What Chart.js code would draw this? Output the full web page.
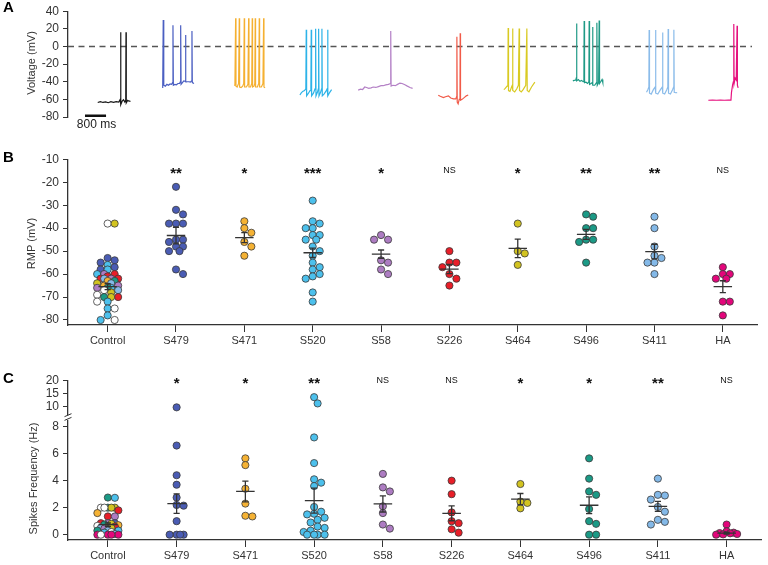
<!DOCTYPE html>
<html><head><meta charset="utf-8">
<script src="https://cdn.jsdelivr.net/npm/chart.js@4.4.0/dist/chart.umd.min.js"></script>
<style>
html,body{margin:0;padding:0;background:#fff;width:768px;height:565px;overflow:hidden}
canvas{position:absolute;left:0}
#cA{top:0}#cB{top:135px}#cC{top:350px}
</style></head><body>
<canvas id="cA" width="768" height="135"></canvas>
<canvas id="cB" width="768" height="215"></canvas>
<canvas id="cC" width="768" height="215"></canvas>
<script>
// ---------------- DATA ----------------
const categories = ['Control','S479','S471','S520','S58','S226','S464','S496','S411','HA'];

// Panel A: example voltage traces, [time (ms), voltage (mV)]
const traceControl = [[1130,-63.5],[1230,-62.5],[1330,-63.5],[1430,-62.8],[1530,-63.8],[1630,-62.6],[1730,-63.4],[1830,-62.6],[1930,-63],[1985,-60],[2000,16],[2012,-66],[2060,-62],[2110,-60.5],[2160,-63],[2195,-61],[2205,16],[2215,-64],[2270,-61],[2320,-62],[2356,-61.5]];
const traceS479 = [[3600,-47],[3620,30],[3640,-44],[3700,-45],[3760,-43],[3820,-44],[3880,-42.5],[3940,-43],[3975,-41],[3990,24],[4005,-44],[4060,-43],[4120,-43.5],[4180,-42],[4240,-42],[4270,-40],[4283,24],[4298,-43],[4350,-41],[4400,-39],[4450,-39.5],[4465,-37],[4473,13],[4485,-40],[4540,-40],[4600,-40],[4650,-40.5],[4700,-39],[4712,17.6],[4725,-41],[4790,-42]];
const traceS471 = [[6310,-44],[6345,-42],[6372,32],[6385,-45],[6430,-46],[6485,-42],[6510,32],[6523,-46],[6580,-46.5],[6640,-45],[6680,-42],[6700,32],[6713,-46],[6780,-46],[6840,-43],[6866,32],[6879,-46],[6940,-46],[6985,-42],[7003,32],[7016,-46],[7070,-45],[7100,-42],[7117,32],[7130,-46],[7200,-46],[7250,-42],[7270,32],[7283,-46],[7350,-46],[7410,-42],[7436,32],[7449,-46],[7490,-47]];
const traceS520 = [[8816,-55],[8860,-53],[8920,-51],[8990,-50],[9040,-48],[9056,19],[9070,-56],[9140,-53],[9200,-50],[9232,-47],[9246,19],[9260,-56],[9330,-53],[9390,-48],[9413,20],[9427,-56],[9480,-52],[9515,-48],[9527,20],[9541,-56],[9600,-52],[9640,-48],[9652,20],[9666,-56],[9730,-54],[9800,-51],[9850,-48],[9869,19],[9883,-56],[9950,-52],[10020,-49]];
const traceS58 = [[11030,-49.5],[11120,-48.5],[11200,-48.8],[11280,-46],[11350,-46.5],[11430,-47.5],[11520,-47],[11600,-46],[11700,-46.5],[11800,-45.5],[11900,-44.5],[11983,-44.5],[12080,-43.5],[12180,-43],[12255,-42],[12268,17.6],[12282,-45],[12350,-44],[12440,-44.5],[12530,-43],[12616,-41.5],[12700,-42],[12806,-43.5],[12900,-45],[13000,-46.5],[13099,-47.5]];
const traceS226 = [[14074,-55.3],[14150,-56.5],[14270,-58],[14350,-57],[14460,-56],[14550,-58.5],[14650,-59.5],[14740,-59.5],[14772,-57],[14782,11],[14795,-63],[14830,-65],[14870,-60],[14900,-57],[14908,15],[14920,-61],[14980,-60],[15060,-58],[15140,-56],[15213,-55]];
const traceS464 = [[16568,-49],[16620,-47.5],[16690,-45],[16720,-44],[16731,21],[16745,-50],[16800,-51],[16860,-46],[16890,-44],[16899,20.5],[16913,-50],[16980,-51.5],[17060,-48],[17120,-44],[17149,20.5],[17163,-50],[17230,-51.5],[17300,-49],[17400,-44],[17442,20.5],[17456,-50],[17520,-51.5],[17620,-46],[17746,-40.5]];
const traceS496 = [[19190,-39],[19240,-38.5],[19300,-38],[19320,-36],[19330,26],[19345,-39],[19400,-37.5],[19460,-39.5],[19520,-38.5],[19580,-40],[19610,-39],[19620,29],[19635,-41],[19690,-40.5],[19750,-42],[19800,-40],[19810,29],[19825,-43],[19880,-42],[19930,-41],[19940,22],[19955,-44],[20020,-44],[20090,-41],[20103,27],[20118,-44],[20170,-41],[20190,29.5],[20205,-42],[20260,-39.5],[20300,-37.5],[20330,-41]];
const traceS411 = [[21990,-52],[22040,-49],[22080,-46],[22090,18.7],[22104,-53],[22170,-54],[22250,-49],[22320,-46],[22333,18.7],[22347,-53],[22420,-54],[22520,-49],[22590,-46],[22600,15.7],[22614,-53],[22680,-54],[22760,-49],[22800,-46],[22813,19.8],[22827,-53],[22900,-54],[22980,-49],[23020,-46],[23030,19],[23044,-52],[23100,-52.5],[23155,-52.3]];
const traceHA = [[24340,-61],[24500,-60.7],[24650,-61],[24800,-60.8],[24950,-61],[25100,-60.7],[25200,-60.8],[25220,-52],[25260,-44],[25290,-40],[25308,25.4],[25320,-42],[25360,-36],[25400,-38],[25433,23.5],[25445,-44],[25473,-47]];
const voltageTicks = [40,20,0,-20,-40,-60,-80];
const scaleBarMs = 800;

// Panel B: resting membrane potential (mV)
const rmpControl = [-38,-38,-53,-54,-55,-57,-58,-56,-58,-60,-60,-60,-61,-62,-62,-62,-62,-63,-63,-64,-64,-65,-65,-66,-66,-66,-67,-67,-68,-69,-70,-70,-70,-72,-72,-75,-75,-78,-80,-80];
const rmpControlLine = ['ctrl','S464','S479','S479','S479','S479','S479','S520','S520','S226','S58','S520','S226','S226','S226','S58','S411','S471','S496','S464','S411','S471','S58','S520','S58','S496','S411','ctrl','S464','ctrl','S496','S226','S464','ctrl','S520','S520','ctrl','S520','ctrl','S520'];
const rmpS479 = [-22,-32,-34,-38,-38,-38,-45,-45,-46,-48,-48,-50,-50,-58,-60];
const rmpS471 = [-37,-40,-42,-46,-48,-52];
const rmpS520 = [-28,-37,-38,-40,-40,-43,-43,-45,-45,-48,-50,-52,-55,-57,-58,-60,-61,-62,-68,-72];
const rmpS58 = [-43,-45,-45,-54,-55,-58,-60];
const rmpS226 = [-50,-55,-55,-57,-60,-62,-65];
const rmpS464 = [-38,-50,-51,-56];
const rmpS496 = [-34,-35,-40,-40,-45,-45,-46,-55];
const rmpS411 = [-35,-40,-48,-52,-53,-55,-55,-60];
const rmpHA = [-57,-60,-60,-62,-62,-72,-72,-78];
const rmpMean = [-65.5,-43.2,-44.1,-50.7,-51.3,-57.8,-48.8,-42.7,-50.2,-65.5];
const rmpSem = [1.3,3.6,2.2,2.0,1.8,2.0,4.0,2.2,3.2,2.6];
const rmpSig = ['','**','*','***','*','NS','*','**','**','NS'];
const rmpTicks = [-10,-20,-30,-40,-50,-60,-70,-80];

// Panel C: spike frequency (Hz)
const freqControl = [2.75,2.73,2.0,2.0,2.0,2.0,2.0,1.8,1.6,1.35,1.35,0.85,0.85,0.85,0.8,0.75,0.7,0.65,0.6,0.6,0.5,0.5,0.45,0.3,0.3,0.3,0.2,0.15,0.05,0,0,0,0,0];
const freqControlLine = ['S496','S520','S496','S464','ctrl','S464','ctrl','S226','S471','S226','S58','S58','S479','S226','S464','S496','S471','ctrl','S464','S226','S411','S464','S58','S520','S496','S411','ctrl','S520','S411','HA','HA','HA','ctrl','HA'];
const freqS479 = [9.8,6.6,4.4,3.7,2.75,2.2,2.15,1.0,0,0,0,0];
const freqS471 = [5.65,5.15,3.4,2.3,1.4,1.35];
const freqS520 = [13.7,11.3,7.2,5.3,4.1,3.85,3.6,2.05,1.7,1.55,1.5,1.25,1.1,0.9,0.6,0.5,0.3,0.2,0,0,0,0];
const freqS58 = [4.5,3.5,3.2,2.1,1.6,0.75,0.45];
const freqS226 = [4.0,3.0,1.65,1.0,0.85,0.4,0.15];
const freqS464 = [3.75,2.45,2.35,1.95];
const freqS496 = [5.65,4.15,3.2,2.95,1.9,1.0,0.8,0,0];
const freqS411 = [4.15,2.95,2.9,2.6,2.05,1.7,1.1,0.95,0.75];
const freqHA = [0.75,0.25,0.15,0.12,0.1,0.05,0.02,0];
const freqMean = [0.75,2.3,3.2,2.52,2.28,1.58,2.63,2.18,2.1,0.12];
const freqSem = [0.13,0.72,0.77,0.93,0.6,0.55,0.42,0.62,0.37,0.07];
const freqSig = ['','*','*','**','NS','NS','*','*','**','NS'];
const freqTicksLow = [0,2,4,6,8];
const freqTicksHigh = [10,15,20];

// ---------------- STYLE ----------------
const FONT = '"Liberation Sans", Arial, Helvetica, sans-serif';
Chart.defaults.font.family = FONT;
Chart.defaults.color = '#333';
const traceColor = ['#161616','#4b5fc2','#f5b031','#2db3e8','#b481c6','#f15a48','#d9ca22','#1f9a86','#8bbcea','#e6127f'];
const pointColor = {ctrl:'#ffffff',S479:'#4a5cb4',S471:'#f5b234',S520:'#4cc0ec',S58:'#ad7cc2',S226:'#e81e28',S464:'#d2c320',S496:'#1b9a86',S411:'#84b9e8',HA:'#e3067b'};
const AXIS = '#333';

function textPlugin(draw){ return {id:'txt'+Math.random(), afterDraw(chart){ const c=chart.ctx; c.save(); draw(chart,c); c.restore(); } }; }
function drawLetter(c,t,x,y){ c.fillStyle='#000'; c.font='bold 15px '+FONT; c.textAlign='left'; c.textBaseline='middle'; c.fillText(t,x,y); }
function drawVTitle(c,t,x,y){ c.fillStyle='#333'; c.font='11px '+FONT; c.textAlign='center'; c.textBaseline='middle'; c.translate(x,y); c.rotate(-Math.PI/2); c.fillText(t,0,0); c.setTransform(1,0,0,1,0,0); }
function drawSig(chart,c,sig,cy){
  const xs = chart.scales.x;
  sig.forEach((s,i)=>{
    if(!s) return;
    const x = xs.getPixelForValue(i);
    c.fillStyle='#111'; c.textAlign='center'; c.textBaseline='alphabetic';
    if(s==='NS'){ c.font='9px '+FONT; c.fillText(s,x,cy+3.3); }
    else { c.font='bold 15px '+FONT; c.fillText(s,x,cy+8.5); }
  });
}

function yAxisBase(extra){
  return Object.assign({
    type:'linear', position:'left',
    border:{display:true,color:AXIS,width:1.3},
    grid:{display:true,drawOnChartArea:false,drawTicks:true,tickLength:5,color:AXIS,lineWidth:1},
    ticks:{font:{size:12},color:'#333',padding:4,autoSkip:false},
    afterFit(s){ s.width = 68; }
  }, extra);
}
function xCatAxis(){
  return {
    type:'linear', min:-0.58, max:9.5, position:'bottom',
    border:{display:true,color:AXIS,width:1.3},
    grid:{display:true,drawOnChartArea:false,drawTicks:true,tickLength:7,color:AXIS,lineWidth:1},
    ticks:{font:{size:11},color:'#333',padding:2,autoSkip:false,maxRotation:0,callback:(v)=>categories[v]??''},
    afterBuildTicks(s){ s.ticks = categories.map((_,i)=>({value:i})); },
    afterFit(s){ s.height = 25; }
  };
}
function errorData(means,sems,halfMean,halfCap){
  const d=[];
  means.forEach((m,i)=>{ const s=sems[i];
    d.push({x:i-halfMean,y:m},{x:i+halfMean,y:m},{x:i,y:null},
           {x:i,y:m-s},{x:i,y:m+s},{x:i,y:null},
           {x:i-halfCap,y:m+s},{x:i+halfCap,y:m+s},{x:i,y:null},
           {x:i-halfCap,y:m-s},{x:i+halfCap,y:m-s},{x:i,y:null}); });
  return d;
}
function pointDs(values,g,colors,axis){
  return {type:'scatter', grp:g, yAxisID:axis, data:values.map(v=>({x:g,y:v})),
    backgroundColor:colors, borderColor:'#3a3a3a', borderWidth:0.8, pointRadius:3.6, pointHoverRadius:3.6, clip:false, order:1};
}
function swarm(chart){
  const xs = chart.scales.x;
  const ppu = xs.getPixelForValue(1)-xs.getPixelForValue(0);
  const step = 3.5, minD = 6.6, cands=[0,1,-1,2,-2,3,-3];
  const groups = {};
  chart.data.datasets.forEach(ds=>{ if(ds.grp===undefined) return;
    const ys = chart.scales[ds.yAxisID];
    ds.data.forEach(p=>{ (groups[ds.grp]=groups[ds.grp]||[]).push({p,py:ys.getPixelForValue(p.y)}); }); });
  Object.keys(groups).forEach(g=>{
    const pts = groups[g].sort((a,b)=>a.py-b.py); const placed=[];
    pts.forEach(o=>{
      let best=null,bestD=-1;
      for(const k of cands){ const ox=k*step; let md=1e9;
        placed.forEach(q=>{ const d=Math.hypot(q.ox-ox,q.py-o.py); if(d<md) md=d; });
        if(md>=minD){ best=ox; break; }
        if(md>bestD){ bestD=md; best=ox; } }
      o.ox=best; placed.push(o); o.p.x = Number(g) + best/ppu;
    });
  });
  chart.update('none');
}
const baseOpts = {responsive:false, animation:false, devicePixelRatio:1, events:[],
  plugins:{legend:{display:false},tooltip:{enabled:false}}};

// ---------------- PANEL A ----------------
const traces = [traceControl,traceS479,traceS471,traceS520,traceS58,traceS226,traceS464,traceS496,traceS411,traceHA];
const dsA = traces.map((t,i)=>({data:t.map(p=>({x:p[0],y:p[1]})), borderColor:traceColor[i], borderWidth:1.2, pointRadius:0, tension:0, order:1}));
dsA.push({data:[{x:0,y:0},{x:26000,y:0}], borderColor:'#555', borderWidth:1.6, borderDash:[6,4.5], pointRadius:0, order:5});
dsA.push({data:[{x:646,y:-78.5},{x:646+scaleBarMs,y:-78.5}], borderColor:'#111', borderWidth:2.5, pointRadius:0, order:0});
new Chart(document.getElementById('cA'), {type:'line', data:{datasets:dsA},
  options:Object.assign({}, baseOpts, {layout:{padding:{top:10,bottom:18,left:0,right:16}},
    scales:{x:{type:'linear',min:0,max:26000,display:false},
      y:yAxisBase({min:-80,max:40, afterBuildTicks(s){ s.ticks = voltageTicks.map(v=>({value:v})); }})}}),
  plugins:[textPlugin((ch,c)=>{
    drawLetter(c,'A',3,8);
    drawVTitle(c,'Voltage (mV)',32,63);
    const xs=ch.scales.x;
    c.fillStyle='#222'; c.font='12px '+FONT; c.textAlign='center'; c.textBaseline='middle';
    c.fillText(scaleBarMs+' ms',(xs.getPixelForValue(646)+xs.getPixelForValue(646+scaleBarMs))/2+1,124.5);
  })]
});

// ---------------- PANEL B ----------------
const rmpGroups = [rmpControl,rmpS479,rmpS471,rmpS520,rmpS58,rmpS226,rmpS464,rmpS496,rmpS411,rmpHA];
const dsB = rmpGroups.map((vals,g)=>pointDs(vals,g, g===0 ? rmpControlLine.map(k=>pointColor[k]) : pointColor[categories[g]], 'y'));
dsB.push({type:'scatter', showLine:true, spanGaps:false, data:errorData(rmpMean,rmpSem,0.135,0.045), borderColor:'#333', borderWidth:1.3, pointRadius:0, order:-1, yAxisID:'y'});
const chartB = new Chart(document.getElementById('cB'), {type:'scatter', data:{datasets:dsB},
  options:Object.assign({}, baseOpts, {layout:{padding:{top:24.3,bottom:0,left:0,right:11}},
    scales:{x:xCatAxis(),
      y:yAxisBase({min:-82.18,max:-10, afterBuildTicks(s){ s.ticks = rmpTicks.map(v=>({value:v})); }})}}),
  plugins:[textPlugin((ch,c)=>{
    drawLetter(c,'B',3,23);
    drawVTitle(c,'RMP (mV)',32,108.5);
    drawSig(ch,c,rmpSig,ch.chartArea.top+10.4);
  })]
});
swarm(chartB);

// ---------------- PANEL C ----------------
const freqGroups = [freqControl,freqS479,freqS471,freqS520,freqS58,freqS226,freqS464,freqS496,freqS411,freqHA];
const LOW_MAX = 8.7;
const dsC = [];
freqGroups.forEach((vals,g)=>{
  const col = g===0 ? freqControlLine.map(k=>pointColor[k]) : pointColor[categories[g]];
  dsC.push(pointDs(vals.filter(v=>v<=LOW_MAX),g,col,'yLo'));
  const hi = vals.filter(v=>v>LOW_MAX);
  if(hi.length) dsC.push(pointDs(hi,g,col,'yHi'));
});
dsC.push({type:'scatter', showLine:true, spanGaps:false, data:errorData(freqMean,freqSem,0.135,0.045), borderColor:'#333', borderWidth:1.3, pointRadius:0, order:-1, yAxisID:'yLo'});
const chartC = new Chart(document.getElementById('cC'), {type:'scatter', data:{datasets:dsC},
  options:Object.assign({}, baseOpts, {layout:{padding:{top:30.7,bottom:0,left:0,right:7}},
    scales:{x:xCatAxis(),
      yHi:yAxisBase({min:6.04,max:20,stack:'freq',stackWeight:36.3,weight:2, afterBuildTicks(s){ s.ticks = freqTicksHigh.map(v=>({value:v})); }}),
      yLo:yAxisBase({min:-0.394,max:LOW_MAX,stack:'freq',stackWeight:122.3,weight:1, afterBuildTicks(s){ s.ticks = freqTicksLow.map(v=>({value:v})); }})}}),
  plugins:[textPlugin((ch,c)=>{
    drawLetter(c,'C',3,29);
    drawVTitle(c,'Spikes Frequency (Hz)',34,128.5);
    drawSig(ch,c,freqSig,ch.chartArea.top-1.5);
    const yb = ch.scales.yHi.bottom;
    c.fillStyle='#fff'; c.fillRect(63,yb-1.8,10,4.6);
    c.strokeStyle='#333'; c.lineWidth=1;
    c.beginPath(); c.moveTo(64.5,yb-0.5); c.lineTo(71.5,yb-3.5); c.moveTo(64.5,yb+3.2); c.lineTo(71.5,yb+0.2); c.stroke();
  })]
});
swarm(chartC);
</script>
</body></html>
